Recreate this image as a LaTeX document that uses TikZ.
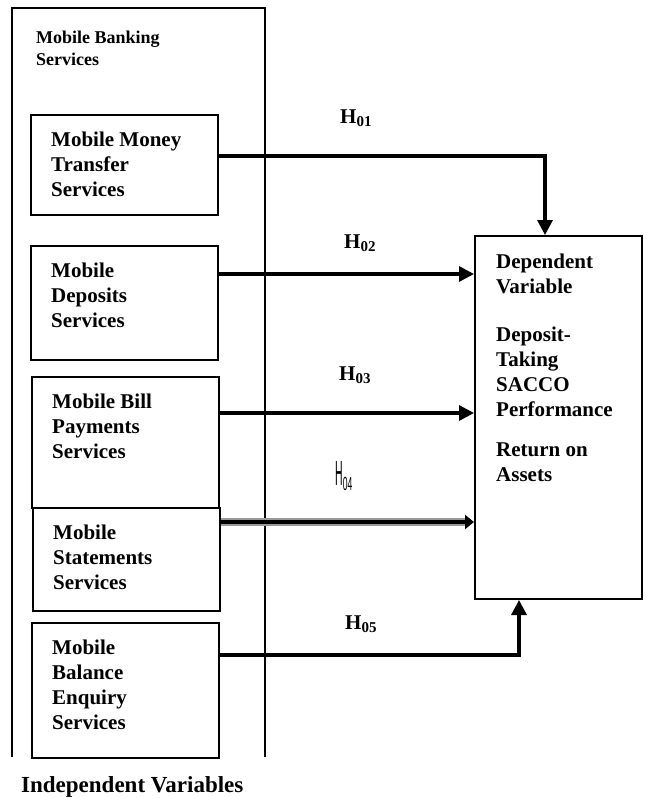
\documentclass[tikz,border=0pt]{standalone}
\usepackage{graphicx}
\usepackage{fontspec}
\setmainfont{Liberation Serif}
\setsansfont{Liberation Sans}
\usetikzlibrary{arrows.meta}

\begin{document}
\begin{tikzpicture}[x=1pt, y=-1pt, font=\bfseries\fontsize{21}{25}\selectfont,
  ivbox/.style={draw, line width=2pt, inner sep=0pt},
  ivtext/.style={anchor=north west, align=left, inner sep=0pt},
  arr/.style={line width=3.3pt, -{Triangle[length=15pt,width=15pt]}},
  hyp/.style={anchor=base west, inner sep=0pt}]

  \useasboundingbox (0,0) rectangle (647,798);

  % frame of the independent variables, open at the bottom
  \draw[line width=2pt] (12,757) |- (265,8) -- (265,757);
  \node[hyp, align=left, font=\bfseries\fontsize{18}{22}\selectfont] (mbs) at (36,65)
    {Mobile Banking\\Services};

  \foreach \nm/\cx/\cy/\h/\txt in {
      mmt/124.5/165/100/{Mobile Money\\Transfer\\Services},
      mds/124.5/303/114/{Mobile\\Deposits\\Services},
      mbp/125.5/442.5/131/{Mobile Bill\\Payments\\Services},
      mss/126.5/559.5/103/{Mobile\\Statements\\Services},
      mbe/125.5/690.5/135/{Mobile\\Balance\\Enquiry\\Services}}{
    \node[ivbox, minimum width=187, minimum height=\h] (\nm) at (\cx,\cy) {};
    \node[ivtext] (\nm-t) at ([shift={(21,18)}]\nm.north west) {\txt};
  }

  \node[hyp, font=\bfseries\fontsize{23}{27}\selectfont] (iv) at (21,792)
    {Independent Variables};

  % dependent variable
  \node[ivbox, minimum width=167, minimum height=363] (dv) at (558.5,417.5) {};
  \node[ivtext] (dv-t) at ([shift={(22,19)}]dv.north west)
    {Dependent\\Variable\\[23pt]Deposit-\\Taking\\SACCO\\Performance\\[15pt]Return on\\Assets};

  % hypotheses
  \draw[arr] ([shift={(0,42)}]mmt.north east) -| ([shift={(71,0)}]dv.north west);
  \draw[arr] ([shift={(0,29)}]mds.north east) coordinate (a2) -- (a2 -| dv.west);
  \draw[arr] ([shift={(0,37)}]mbp.north east) coordinate (a3) -- (a3 -| dv.west);
  \draw[line width=7.5pt, black!40] ([shift={(0,15)}]mss.north east) coordinate (a4)
    -- ([shift={(-4,0)}]a4 -| dv.west);
  \draw[line width=4pt, -{Triangle[length=9pt,width=14pt]}] (a4) -- (a4 -| dv.west);
  \draw[arr] ([shift={(0,33)}]mbe.north east) -| ([shift={(45,0)}]dv.south west);

  \foreach \nm/\hx/\hy/\dd in {h1/340/123/01, h2/344/248/02, h3/339/380/03, h5/345/629/05}
    \node[hyp] (\nm) at (\hx,\hy) {H\raisebox{-3pt}{\fontsize{15}{15}\selectfont\dd}};

  \node[hyp, font=\sffamily\mdseries] (h4) at (335,485)
    {\scalebox{0.3}[1]{\fontsize{35}{35}\selectfont H}\raisebox{-5pt}{\scalebox{0.45}[1]{\fontsize{19}{19}\selectfont 04}}};
\end{tikzpicture}
\end{document}
